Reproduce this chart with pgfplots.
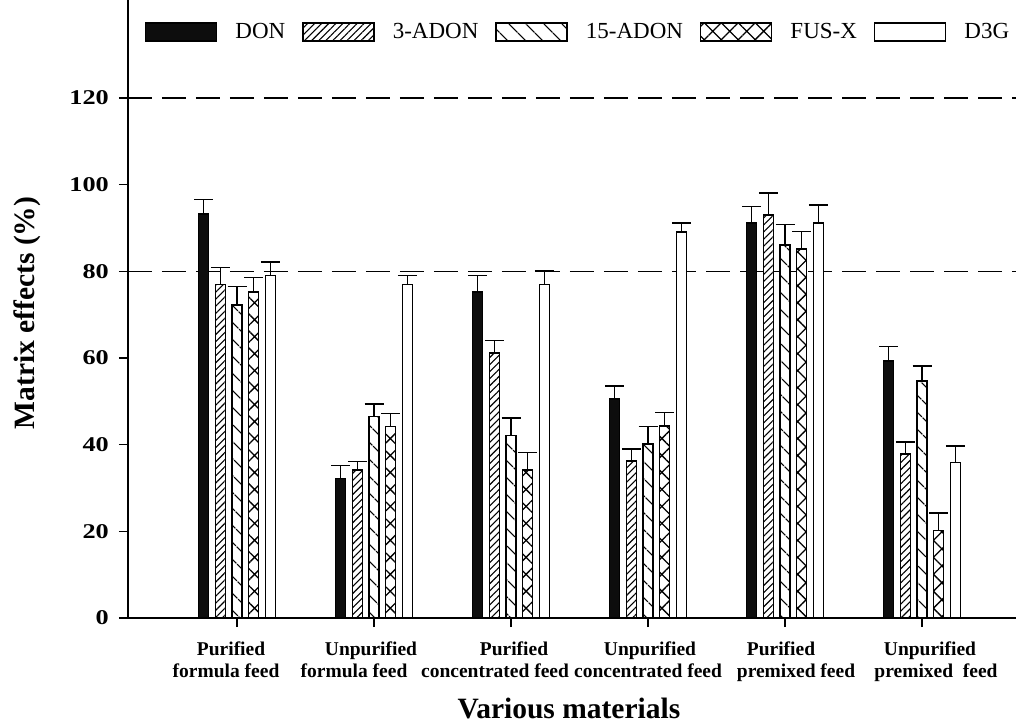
\documentclass[border=0pt]{standalone}
\usepackage{pgfplots}
\pgfplotsset{compat=1.18}
\usepackage{pgfplotstable}
\usepackage{graphicx}
\usepackage{fontspec}
\setmainfont{Liberation Serif}
\usetikzlibrary{patterns,patterns.meta}

\pgfplotstableread{
x don donE a3 a3E a15 a15E fus fusE d3g d3gE
0 93.2 3.4 77.0 3.9 72.2 4.3 75.2 3.4 79.0 3.2
1 32.2 3.0 34.2 1.9 46.5 2.9 44.2 3.0 77.0 2.0
2 75.2 3.8 61.1 2.9 42.1 4.0 34.1 4.1 77.0 3.1
3 50.5 3.0 36.2 2.8 40.1 4.1 44.3 3.1 89.1 2.0
4 91.1 3.8 93.0 5.1 86.1 4.7 85.1 4.1 91.1 4.2
5 59.3 3.3 37.8 2.8 54.7 3.5 20.2 4.0 35.9 3.8
}\datatable

\newcommand{\sh}[2]{\hspace*{#1pt}#2}

\pgfplotsset{
  mybar/.style={
    ybar, bar width=10pt, bar shift=0pt, draw=black, line width=1.5pt,
    legend image code/.code={\draw[##1, line width=1.5pt] (0pt,-9pt) rectangle (71pt,9pt);},
    /pgfplots/error bars/y dir=plus, /pgfplots/error bars/y explicit,
    /pgfplots/error bars/error bar style={line width=1.5pt, black, solid},
    /pgfplots/error bars/error mark options={rotate=90, black, line width=1.5pt, mark size=9.5pt},
  },
}

\begin{document}
\begin{tikzpicture}
\begin{axis}[
  scale only axis, width=888pt, height=618pt,
  xmin=-0.796, xmax=5.686, ymin=0, ymax=142.6,
  axis x line*=bottom, axis y line*=left,
  axis line style={line width=1.5pt, -},
  tick align=outside, major tick length=9pt,
  tick style={line width=1.5pt, black},
  xtick={0,1,2,3,4,5},
  xticklabels={{\sh{-12}{Purified}\\\sh{-22}{formula feed}},
               {\sh{-6}{Unpurified}\\\sh{-40}{formula feed}},
               {\sh{6}{Purified}\\\sh{-32}{concentrated feed}},
               {\sh{4}{Unpurified}\\\sh{0}{concentrated feed}},
               {\sh{-8}{Purified}\\\sh{22}{premixed feed}},
               {\sh{16}{Unpurified}\\\sh{28}{premixed\ \ feed}}},
  xticklabel style={align=center, font=\bfseries\fontsize{19.5}{21.5}\selectfont, inner sep=0pt, yshift=-15pt},
  ytick={0,20,40,60,80,100,120},
  /pgf/number format/assume math mode=true,
  yticklabel={\scalebox{1.25}[1]{\pgfmathprintnumber{\tick}}},
  yticklabel style={font=\bfseries\fontsize{21}{24}\selectfont, inner sep=0pt, xshift=-10pt},
  every axis x label/.style={at={(axis description cs:0.4966,0)}, anchor=base, inner sep=0pt, yshift=-100pt},
  every axis y label/.style={at={(axis description cs:-0.1132,0.4935)}, rotate=90, anchor=center},
  xlabel={\bfseries\fontsize{29.5}{32}\selectfont Various materials},
  ylabel={\bfseries\fontsize{29.5}{32}\selectfont Matrix effects (\%)},
  legend columns=-1,
  legend style={draw=none, fill=none, inner sep=0pt, outer sep=0pt,
    at={(rel axis cs:0.0191,0.9482)}, anchor=west,
    font=\fontsize{23}{26}\selectfont,
    nodes={inner sep=0pt},
    /tikz/every odd column/.append style={column sep=18pt},
    /tikz/every even column/.append style={column sep=17pt}},
  clip=false,
]
\addplot[forget plot, sharp plot, black, line width=1.5pt, dash pattern=on 24pt off 10pt] coordinates {(-0.796,80) (5.686,80)};
\addplot[forget plot, sharp plot, black, line width=1.5pt, dash pattern=on 24pt off 10pt] coordinates {(-0.796,120) (5.686,120)};

\addplot[mybar, fill=black!95] table[x expr=\thisrow{x}-0.2438, y=don, y error=donE] {\datatable};
\addplot[mybar, fill=white, postaction={pattern={Lines[angle=45, distance=5pt, line width=1.1pt]}}] table[x expr=\thisrow{x}-0.1219, y=a3, y error=a3E] {\datatable};
\addplot[mybar, fill=white, postaction={pattern={Lines[angle=-45, distance=13pt, line width=1.3pt]}}] table[x=x, y=a15, y error=a15E] {\datatable};
\addplot[mybar, fill=white, postaction={pattern={Hatch[angle=45, distance=12pt, line width=1.3pt]}}] table[x expr=\thisrow{x}+0.1219, y=fus, y error=fusE] {\datatable};
\addplot[mybar, fill=white] table[x expr=\thisrow{x}+0.2438, y=d3g, y error=d3gE] {\datatable};
\legend{DON,3-ADON,15-ADON,FUS-X,D3G}

\coordinate (bbsw) at (rel axis cs:-0.14414,-0.1764);
\coordinate (bbne) at (rel axis cs:1,1);
\end{axis}
\pgfresetboundingbox
\path (bbsw) rectangle (bbne);
\end{tikzpicture}
\end{document}
